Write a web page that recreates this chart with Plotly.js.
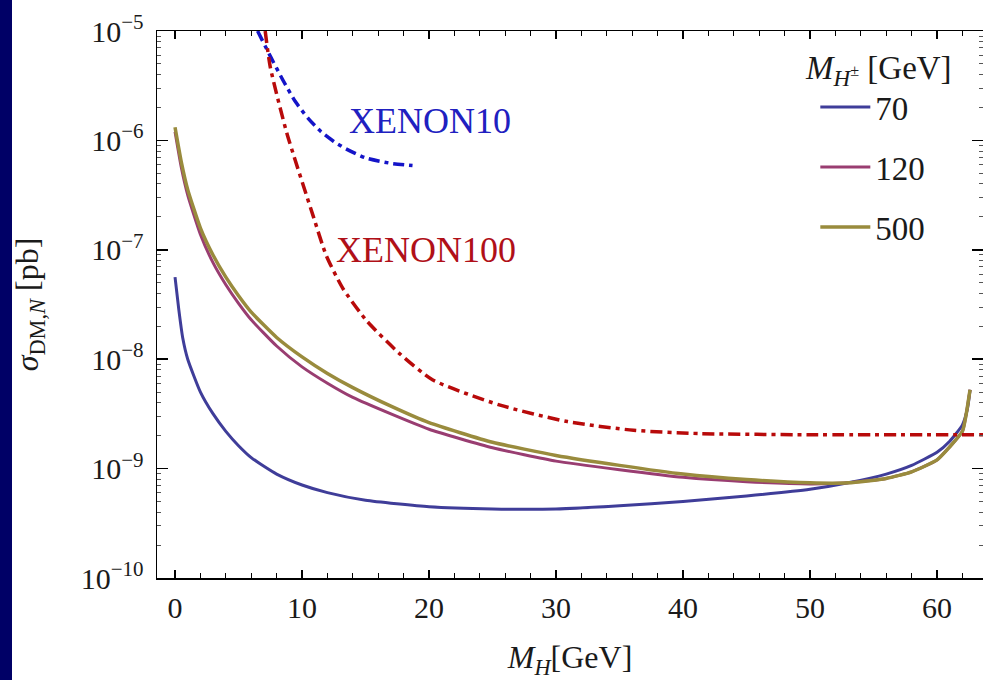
<!DOCTYPE html>
<html>
<head>
<meta charset="utf-8">
<script src="https://cdn.plot.ly/plotly-3.0.1.min.js"></script>
<style>
  html, body { margin: 0; padding: 0; background: #ffffff; overflow: hidden; width: 983px; height: 680px; }
  #chart { position: absolute; left: 0; top: 0; width: 983px; height: 680px; }
  #strip { position: absolute; left: 0; top: 0; width: 12px; height: 680px; background: #000066; z-index: 5; }
</style>
</head>
<body>
<div id="chart"></div>
<div id="strip"></div>
<script>
// ---- data ----
// Dark-matter mass M_H [GeV]
const mHBlue = [0, 0.3, 0.6, 1, 2, 3, 4, 5, 6, 7, 8, 10, 12, 15, 20, 25, 30, 35, 40, 45, 50, 53, 56, 58, 60, 61, 62, 62.4, 62.6];
const sigma70 = [5.62e-8, 2.82e-8, 1.58e-8, 1.0e-8, 5.01e-9, 3.16e-9, 2.19e-9, 1.62e-9, 1.26e-9, 1.05e-9, 8.91e-10, 7.08e-10, 6.03e-10, 5.13e-10, 4.47e-10, 4.27e-10, 4.27e-10, 4.57e-10, 5.01e-10, 5.62e-10, 6.46e-10, 7.41e-10, 8.91e-10, 1.07e-9, 1.41e-9, 1.78e-9, 2.51e-9, 3.55e-9, 5.25e-9];

const mH = [0, 0.5, 1, 2, 3, 4, 5, 6, 8, 10, 12, 14, 17, 20, 25, 30, 35, 40, 45, 50, 53, 56, 58, 60, 61, 62, 62.3, 62.6];
const sigma120 = [1.20e-6, 5.62e-7, 3.16e-7, 1.38e-7, 7.59e-8, 4.79e-8, 3.24e-8, 2.29e-8, 1.32e-8, 8.51e-9, 6.03e-9, 4.47e-9, 3.16e-9, 2.29e-9, 1.55e-9, 1.17e-9, 9.77e-10, 8.32e-10, 7.59e-10, 7.24e-10, 7.41e-10, 8.13e-10, 9.33e-10, 1.20e-9, 1.58e-9, 2.19e-9, 3.16e-9, 5.25e-9];
const sigma500 = [1.32e-6, 6.31e-7, 3.55e-7, 1.58e-7, 8.91e-8, 5.62e-8, 3.80e-8, 2.69e-8, 1.58e-8, 1.05e-8, 7.41e-9, 5.50e-9, 3.72e-9, 2.63e-9, 1.74e-9, 1.32e-9, 1.07e-9, 8.91e-10, 7.94e-10, 7.41e-10, 7.41e-10, 8.13e-10, 9.33e-10, 1.20e-9, 1.58e-9, 2.19e-9, 3.16e-9, 5.25e-9];

const mXe10 = [6.5, 7.5, 8.5, 9.5, 10.5, 11.5, 12.5, 13.5, 15, 17, 18.7];
const sigmaXe10 = [1.0e-5, 5.89e-6, 3.55e-6, 2.24e-6, 1.58e-6, 1.20e-6, 9.77e-7, 8.32e-7, 6.92e-7, 6.17e-7, 5.89e-7];

const mXe100 = [7.1, 7.5, 8.8, 10.9, 11.9, 13.2, 15.1, 17.7, 20.3, 25.6, 30.9, 36.1, 41.3, 50, 63.7];
const sigmaXe100 = [1.0e-5, 4.68e-6, 1.17e-6, 2.0e-7, 8.91e-8, 4.47e-8, 2.24e-8, 1.12e-8, 6.46e-9, 3.80e-9, 2.69e-9, 2.24e-9, 2.09e-9, 2.04e-9, 2.04e-9];

const chargedMasses = ['70', '120', '500'];
const xTickVals = [0, 10, 20, 30, 40, 50, 60];
const xTickText = ['0', '10', '20', '30', '40', '50', '60'];
const yExponents = [-10, -9, -8, -7, -6, -5];

// ---- styling ----
const serif = 'Liberation Serif, Times New Roman, serif';
const colBlue = '#3f3d99', colMag = '#993d71', colOlive = '#998b3d';
const ink = '#1a1a1a';

const yTickVals = yExponents.map(e => Math.pow(10, e));
const yTickText = yExponents.map(e => '10<sup>\u2212' + Math.abs(e) + '</sup>');
const yMinor = [];
for (let e = -10; e < -5; e++) for (let k = 2; k <= 9; k++) yMinor.push(k * Math.pow(10, e));

const traces = [
  { x: mHBlue, y: sigma70, name: chargedMasses[0], legendgroup: 'a', mode: 'lines',
    line: { color: colBlue, width: 3, shape: 'spline', smoothing: 0.5 } },
  { x: mH, y: sigma120, name: chargedMasses[1], legendgroup: 'b', mode: 'lines',
    line: { color: colMag, width: 3, shape: 'spline', smoothing: 0.5 } },
  { x: mH, y: sigma500, name: chargedMasses[2], legendgroup: 'c', mode: 'lines',
    line: { color: colOlive, width: 3.5, shape: 'spline', smoothing: 0.5 } },
  { x: mXe10, y: sigmaXe10, name: 'XENON10', showlegend: false, mode: 'lines',
    line: { color: '#1414c8', width: 3.5, dash: '11px,5px,4px,5px', shape: 'spline', smoothing: 0.6 } },
  { x: mXe100, y: sigmaXe100, name: 'XENON100', showlegend: false, mode: 'lines',
    line: { color: '#b80a0a', width: 3.5, dash: '12px,5px,4px,5px', shape: 'spline', smoothing: 0.6 } }
];

const axisCommon = {
  showgrid: false, zeroline: false, showline: true, linecolor: '#000', linewidth: 1.5,
  mirror: 'ticks', ticks: 'inside', tickcolor: '#000', tickwidth: 1.5,
  tickfont: { family: serif, size: 30, color: ink }
};

const layout = {
  width: 983, height: 680,
  paper_bgcolor: '#ffffff', plot_bgcolor: '#ffffff',
  margin: { l: 157, r: 0, t: 31, b: 102 },
  showlegend: true,
  xaxis: Object.assign({}, axisCommon, {
    range: [-1.42, 63.62], tickmode: 'array', tickvals: xTickVals, ticktext: xTickText,
    ticklen: 8, ticklabelstandoff: 2,
    minor: { tickmode: 'linear', tick0: 0, dtick: 2, ticks: 'inside', ticklen: 5, tickcolor: '#000', tickwidth: 1.2 },
    title: { text: '<i>M</i><sub><i>H</i></sub>[GeV]', font: { family: serif, size: 32, color: ink }, standoff: 24 }
  }),
  yaxis: Object.assign({}, axisCommon, {
    type: 'log', range: [-10, -5], tickmode: 'array', tickvals: yTickVals, ticktext: yTickText,
    ticklen: 11, ticklabelstandoff: 6,
    minor: { tickmode: 'array', tickvals: yMinor, ticks: 'inside', ticklen: 4, tickcolor: '#555', tickwidth: 1 },
    title: { text: '<i>\u03c3</i><sub>DM,<i>N</i></sub> [pb]', font: { family: serif, size: 32, color: ink }, standoff: 32 }
  }),
  legend: {
    x: 0.797, y: 0.912, xanchor: 'left', yanchor: 'top',
    bgcolor: 'rgba(0,0,0,0)', borderwidth: 0,
    font: { family: serif, size: 33, color: ink },
    tracegroupgap: 14, itemwidth: 50
  },
  annotations: [
    { text: '<i>M</i><sub><i>H</i><sup>\u00b1</sup></sub> [GeV]', xref: 'paper', yref: 'paper',
      x: 0.874, y: 0.927, xanchor: 'center', yanchor: 'middle', showarrow: false,
      font: { family: serif, size: 33, color: ink } },
    { text: 'XENON10', xref: 'x', yref: 'y', x: 20.1, y: -5.82, showarrow: false,
      font: { family: serif, size: 36, color: '#2020c0' } },
    { text: 'XENON100', xref: 'x', yref: 'y', x: 19.8, y: -7.0, showarrow: false,
      font: { family: serif, size: 36, color: '#b01018' } }
  ]
};

Plotly.newPlot('chart', traces, layout, { displayModeBar: false, staticPlot: true });
</script>
</body>
</html>
